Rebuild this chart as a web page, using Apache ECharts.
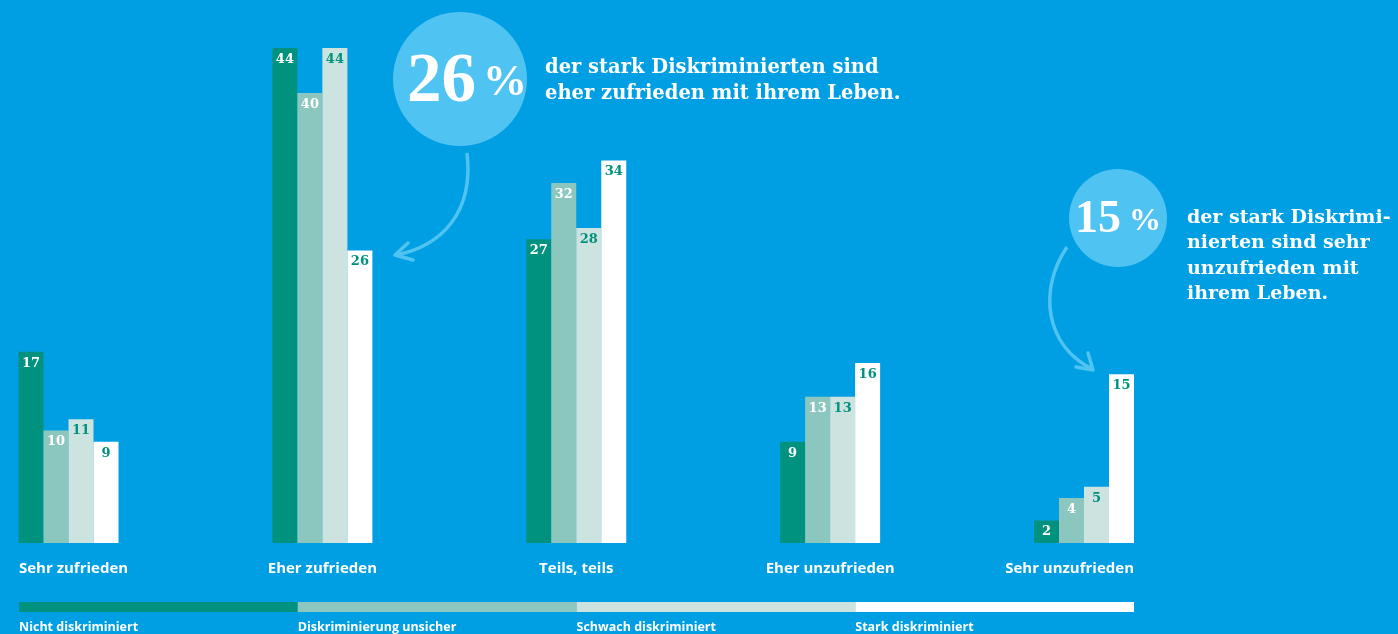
<!DOCTYPE html>
<html><head><meta charset="utf-8">
<script src="https://cdn.jsdelivr.net/npm/echarts@6/dist/echarts.min.js"></script>
<style>html,body{margin:0;padding:0;background:#009FE3;}#c{width:1398px;height:634px;}</style>
</head><body><div id="c"></div>
<script>
const categories = ['Sehr zufrieden', 'Eher zufrieden', 'Teils, teils', 'Eher unzufrieden', 'Sehr unzufrieden'];
const seriesNames = ['Nicht diskriminiert', 'Diskriminierung unsicher', 'Schwach diskriminiert', 'Stark diskriminiert'];
const nichtDiskriminiert = [17, 44, 27, 9, 2];
const diskriminierungUnsicher = [10, 40, 32, 13, 4];
const schwachDiskriminiert = [11, 44, 28, 13, 5];
const starkDiskriminiert = [9, 26, 34, 16, 15];
const seriesData = [nichtDiskriminiert, diskriminierungUnsicher, schwachDiskriminiert, starkDiskriminiert];

const colors = ['#00927F', '#8CC7BF', '#CCE3DF', '#FFFFFF'];
const labelColors = ['#FFFFFF', '#FFFFFF', '#00927F', '#00927F'];
const SERIF = '"DejaVu Serif", serif';
const BIG = '"Liberation Serif", serif';
const SANS = '"Open Sans", sans-serif';

const chart = echarts.init(document.getElementById('c'));
const option = {
  backgroundColor: '#009FE3',
  animation: false,
  grid: { left: 68.5, right: 314, top: 3, bottom: 91 },
  xAxis: {
    type: 'category', data: categories, boundaryGap: false,
    axisLine: { show: false }, axisTick: { show: false }, axisLabel: { show: false }, splitLine: { show: false }
  },
  yAxis: { type: 'value', min: 0, max: 48, show: false, splitLine: { show: false } },
  series: seriesNames.map((n, i) => ({
    name: n, type: 'bar', data: seriesData[i], barWidth: 25, barGap: '0%', clip: false,
    itemStyle: { color: colors[i] },
    label: { show: true, position: 'insideTop', distance: 5, color: labelColors[i],
      fontFamily: SERIF, fontWeight: 'bold', fontSize: 13 }
  }))
};
chart.setOption(option);

function build() {
  const g = [];
  const y0 = chart.convertToPixel({ yAxisIndex: 0 }, 0);
  const half = 50;
  const xs = categories.map((c, i) => chart.convertToPixel({ xAxisIndex: 0 }, i));
  categories.forEach((c, i) => {
    let x = xs[i], align = 'center';
    if (i === 0) { x = xs[i] - half + 0.5; align = 'left'; }
    if (i === categories.length - 1) { x = xs[i] + half; align = 'right'; }
    g.push({ type: 'text', x: x, y: y0 + 26, style: { text: c, fill: '#fff', font: 'bold 15px ' + SANS, textAlign: align, textVerticalAlign: 'middle' } });
  });
  const L = xs[0] - half + 0.5, R = xs[xs.length - 1] + half;
  const w = (R - L) / seriesNames.length;
  seriesNames.forEach((n, i) => {
    g.push({ type: 'rect', shape: { x: L + i * w, y: y0 + 59, width: w, height: 10 }, style: { fill: colors[i] } });
    g.push({ type: 'text', x: L + i * w, y: y0 + 84, style: { text: n, fill: '#fff', font: 'bold 12.5px ' + SANS, textAlign: 'left', textVerticalAlign: 'middle' } });
  });
  // annotations
  const circ = '#4FC3F2';
  g.push({ type: 'circle', shape: { cx: 460, cy: 79, r: 67 }, style: { fill: circ } });
  g.push({ type: 'text', x: 476, y: 83, style: { text: '26', fill: '#fff', font: 'bold 69px ' + BIG, textAlign: 'right', textVerticalAlign: 'middle' } });
  g.push({ type: 'text', x: 483, y: 84, style: { text: '%', fill: '#fff', font: 'bold 44px ' + BIG, textAlign: 'left', textVerticalAlign: 'middle' } });
  g.push({ type: 'text', x: 545, y: 68, style: { text: 'der stark Diskriminierten sind', fill: '#fff', font: 'bold 19.5px ' + SERIF, textAlign: 'left', textVerticalAlign: 'middle' } });
  g.push({ type: 'text', x: 545, y: 94, style: { text: 'eher zufrieden mit ihrem Leben.', fill: '#fff', font: 'bold 19.5px ' + SERIF, textAlign: 'left', textVerticalAlign: 'middle' } });
  g.push({ type: 'bezierCurve', shape: { x1: 467, y1: 153, cpx1: 474, cpy1: 212, cpx2: 442, cpy2: 246, x2: 396, y2: 255 }, style: { stroke: circ, lineWidth: 3.5, fill: null } });
  g.push({ type: 'polyline', shape: { points: [[408, 243], [395, 255], [413, 260]] }, style: { stroke: circ, lineWidth: 3.5, fill: null, lineCap: 'round', lineJoin: 'round' } });

  g.push({ type: 'circle', shape: { cx: 1118, cy: 218, r: 49 }, style: { fill: circ } });
  g.push({ type: 'text', x: 1121, y: 220, style: { text: '15', fill: '#fff', font: 'bold 46px ' + BIG, textAlign: 'right', textVerticalAlign: 'middle' } });
  g.push({ type: 'text', x: 1129, y: 222, style: { text: '%', fill: '#fff', font: 'bold 32px ' + BIG, textAlign: 'left', textVerticalAlign: 'middle' } });
  ['der stark Diskrimi-', 'nierten sind sehr', 'unzufrieden mit', 'ihrem Leben.'].forEach((t, i) => {
    g.push({ type: 'text', x: 1187, y: 218 + i * 25.5, style: { text: t, fill: '#fff', font: 'bold 19px ' + SERIF, textAlign: 'left', textVerticalAlign: 'middle' } });
  });
  g.push({ type: 'bezierCurve', shape: { x1: 1067, y1: 247, cpx1: 1038, cpy1: 290, cpx2: 1045, cpy2: 345, x2: 1092, y2: 369 }, style: { stroke: circ, lineWidth: 3.5, fill: null } });
  g.push({ type: 'polyline', shape: { points: [[1076, 367], [1093, 370], [1088, 353]] }, style: { stroke: circ, lineWidth: 3.5, fill: null, lineCap: 'round', lineJoin: 'round' } });
  chart.setOption({ graphic: g });
}
build();
</script></body></html>
